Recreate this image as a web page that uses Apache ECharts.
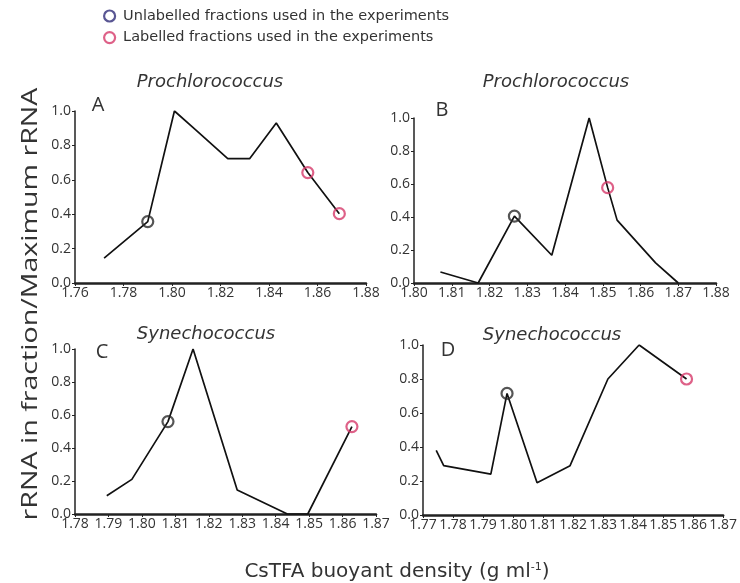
<!DOCTYPE html>
<html><head><meta charset="utf-8">
<script src="https://cdn.jsdelivr.net/npm/echarts@6/dist/echarts.min.js"></script>
<style>html,body{margin:0;padding:0;background:#fff}#c{width:740px;height:583px}</style>
</head><body><div id="c"></div>
<script>
// Panel A – Prochlorococcus
const densityA = [1.772, 1.790, 1.801, 1.810, 1.823, 1.832, 1.843, 1.856, 1.869];
const rnaA     = [0.145, 0.357, 1.000, 0.888, 0.723, 0.723, 0.930, 0.642, 0.403];
const unlabelledIdxA = [1];
const labelledIdxA   = [7, 8];
// Panel B – Prochlorococcus
const densityB = [1.807, 1.817, 1.8266, 1.8365, 1.8464, 1.8513, 1.8538, 1.864, 1.870];
const rnaB     = [0.067, 0.000, 0.405, 0.168, 1.000, 0.578, 0.381, 0.122, 0.000];
const unlabelledIdxB = [2];
const labelledIdxB   = [5];
// Panel C – Synechococcus
const densityC = [1.7895, 1.797, 1.8078, 1.8153, 1.8285, 1.8435, 1.8496, 1.8628];
const rnaC     = [0.111, 0.210, 0.560, 1.000, 0.146, 0.000, 0.000, 0.530];
const unlabelledIdxC = [2];
const labelledIdxC   = [7];
// Panel D – Synechococcus
const densityD = [1.7744, 1.7769, 1.7926, 1.798, 1.808, 1.819, 1.8316, 1.842, 1.8578];
const rnaD     = [0.380, 0.290, 0.240, 0.715, 0.190, 0.290, 0.800, 1.000, 0.800];
const unlabelledIdxD = [3];
const labelledIdxD   = [8];

// axis ranges
const xMin = [1.76, 1.80, 1.78, 1.77];
const xMax = [1.88, 1.88, 1.87, 1.87];
const xStep = [0.02, 0.01, 0.01, 0.01];
const yTicks = [0.0, 0.2, 0.4, 0.6, 0.8, 1.0];

const panelTitles = ['Prochlorococcus', 'Prochlorococcus', 'Synechococcus', 'Synechococcus'];
const panelLetters = ['A', 'B', 'C', 'D'];
const nameUnlab = 'Unlabelled fractions used in the experiments';
const nameLab = 'Labelled fractions used in the experiments';

const densities = [densityA, densityB, densityC, densityD];
const rnas = [rnaA, rnaB, rnaC, rnaD];
const unIdx = [unlabelledIdxA, unlabelledIdxB, unlabelledIdxC, unlabelledIdxD];
const labIdx = [labelledIdxA, labelledIdxB, labelledIdxC, labelledIdxD];

const grids = [
  {left: 75, top: 111, width: 291, height: 172},
  {left: 414, top: 118, width: 302, height: 165},
  {left: 75, top: 349, width: 301, height: 165},
  {left: 423, top: 345, width: 302, height: 170}
];
const titlePos = [[210, 82], [556, 82], [206, 334], [552, 335]];
const letterPos = [[98, 105], [442, 110], [102, 352], [448, 350]];

const LBL = '#333';
const xAxes = [], yAxes = [], series = [], graphics = [];
for (let i = 0; i < 4; i++) {
  xAxes.push({
    type: 'value', gridIndex: i, min: xMin[i], max: xMax[i], interval: xStep[i],
    splitLine: {show: false},
    axisLine: {show: true, lineStyle: {color: '#222', width: 2.5}},
    axisTick: {show: true, length: 3, lineStyle: {color: '#222'}},
    axisLabel: {color: LBL, fontFamily: 'Open Sans', fontSize: 14, margin: 3,
      formatter: v => v.toFixed(2)}
  });
  yAxes.push({
    type: 'value', gridIndex: i, min: yTicks[0], max: yTicks[yTicks.length - 1], interval: 0.2,
    splitLine: {show: false},
    axisLine: {show: true, lineStyle: {color: '#222', width: 1.5}},
    axisTick: {show: true, length: 3, lineStyle: {color: '#222'}},
    axisLabel: {color: LBL, fontFamily: 'Open Sans', fontSize: 14, margin: 4,
      formatter: v => v.toFixed(1)}
  });
  const pts = densities[i].map((d, k) => [d, rnas[i][k]]);
  series.push({
    type: 'line', xAxisIndex: i, yAxisIndex: i, data: pts, showSymbol: false,
    lineStyle: {color: '#111', width: 1.7}, silent: true, z: 2
  });
  series.push({
    type: 'scatter', name: nameUnlab, xAxisIndex: i, yAxisIndex: i,
    data: unIdx[i].map(k => pts[k]), symbol: 'circle', symbolSize: 11,
    itemStyle: {color: 'rgba(255,255,255,0)', borderColor: '#2a2a2a', borderWidth: 2.2}, z: 3
  });
  series.push({
    type: 'scatter', name: nameLab, xAxisIndex: i, yAxisIndex: i,
    data: labIdx[i].map(k => pts[k]), symbol: 'circle', symbolSize: 11,
    itemStyle: {color: 'rgba(255,255,255,0)', borderColor: '#d63a6a', borderWidth: 2.2}, z: 3
  });
  graphics.push({
    type: 'text', x: titlePos[i][0], y: titlePos[i][1],
    style: {text: panelTitles[i], fill: '#333', font: 'italic 18px "DejaVu Sans"',
      align: 'center', verticalAlign: 'middle'}
  });
  graphics.push({
    type: 'text', x: letterPos[i][0], y: letterPos[i][1],
    style: {text: panelLetters[i], fill: '#333', font: '20px "Open Sans"',
      align: 'center', verticalAlign: 'middle'}
  });
}
graphics.push({
  type: 'text', x: 31, y: 304, rotation: Math.PI / 2, scaleX: 1.3, scaleY: 1,
  style: {text: 'rRNA in fraction/Maximum rRNA', fill: '#333', font: '22px "Open Sans"',
    align: 'center', verticalAlign: 'middle'}
});

const chart = echarts.init(document.getElementById('c'), null, {renderer: 'canvas'});
chart.setOption({
  backgroundColor: '#fff',
  animation: false,
  grid: grids,
  xAxis: xAxes,
  yAxis: yAxes,
  series: series,
  legend: {
    orient: 'vertical', left: 98, top: 3, itemWidth: 11, itemHeight: 11, itemGap: 5.6,
    padding: 5,
    selectedMode: false,
    textStyle: {color: '#333', fontFamily: 'DejaVu Sans', fontSize: 14.5, lineHeight: 16,
      padding: [0, 0, 0, 3]},
    data: [
      {name: nameUnlab, icon: 'circle', itemStyle: {color: '#fff', borderColor: '#2f2c78', borderWidth: 2.2}},
      {name: nameLab, icon: 'circle', itemStyle: {color: '#fff', borderColor: '#d63a6a', borderWidth: 2.2}}
    ]
  },
  title: {
    text: 'CsTFA buoyant density (g ml{sup|-1})',
    left: 392, top: 557, textAlign: 'center',
    textStyle: {color: '#333', fontFamily: 'DejaVu Sans', fontSize: 20, fontWeight: 'normal',
      rich: {sup: {fontSize: 11, verticalAlign: 'top', padding: [0, 0, 8, 0], color: '#333', fontFamily: 'DejaVu Sans'}}}
  },
  graphic: graphics
});
</script></body></html>
